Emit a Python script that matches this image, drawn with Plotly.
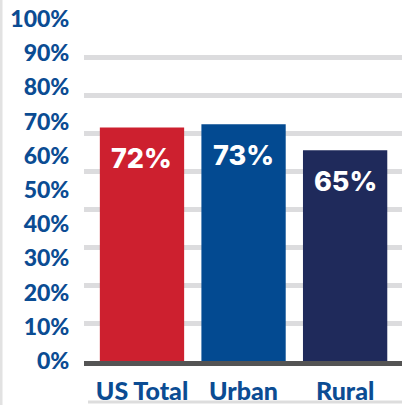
import plotly.graph_objects as go

categories = ["US Total", "Urban", "Rural"]
values = [72, 73, 65]
value_labels = ["72%", "73%", "65%"]
bar_colors = ["#CD202F", "#034A91", "#1F2A5B"]
tick_values = [0, 10, 20, 30, 40, 50, 60, 70, 80, 90, 100]
tick_labels = [f"{v}%" for v in tick_values]
grid_steps = [1, 2, 3, 4, 5, 6, 7, 8, 9]

TEXT_BLUE = "#0B4C93"

fig = go.Figure()

fig.add_trace(go.Bar(
    x=categories, y=values, marker=dict(color=bar_colors, line=dict(width=0)),
    width=0.83, hoverinfo="skip", showlegend=False,
))
fig.add_trace(go.Scatter(x=categories, y=[None] * 3, yaxis="y2", mode="markers",
                         showlegend=False, hoverinfo="skip"))
fig.add_trace(go.Scatter(x=categories, y=[None] * 3, yaxis="y3", mode="markers",
                         showlegend=False, hoverinfo="skip"))

for c, v, t in zip(categories, values, value_labels):
    fig.add_annotation(x=c, y=v, xref="x", yref="y", text=t, showarrow=False,
                       yanchor="middle", yshift=-31,
                       font=dict(family="Inter", size=27, color="white", weight=800))

fig.update_layout(
    width=402, height=405,
    margin=dict(l=84, r=0, t=19, b=44, autoexpand=False),
    paper_bgcolor="white", plot_bgcolor="white",
    xaxis=dict(
        range=[-0.571, 2.56], showgrid=False, zeroline=False, automargin=False,
        showline=True, linecolor="#545454", linewidth=5,
        ticks="outside", ticklen=4, tickcolor="rgba(0,0,0,0)",
        tickfont=dict(family="Lato", size=25, color=TEXT_BLUE, weight=900),
        fixedrange=True,
    ),
    yaxis=dict(range=[0, 105.5], showgrid=False, zeroline=False, showticklabels=False,
               ticks="", fixedrange=True, automargin=False),
    yaxis2=dict(range=[0, 100], overlaying="y", side="left", showgrid=False, zeroline=False,
                tickmode="array", tickvals=tick_values, ticktext=tick_labels,
                ticks="outside", ticklen=9, tickcolor="rgba(0,0,0,0)", automargin=False,
                tickfont=dict(family="Lato", size=23, color=TEXT_BLUE, weight=900),
                fixedrange=True),
    yaxis3=dict(range=[0, 9], overlaying="y", side="right", showticklabels=False,
                showgrid=True, gridcolor="#DCDCDE", gridwidth=5, zeroline=False, automargin=False,
                tickmode="array", tickvals=grid_steps, ticks="", fixedrange=True),
    shapes=[
        dict(type="line", xref="paper", yref="paper", x0=-83/318, x1=-83/318,
             y0=-44/342, y1=1 + 19/342, line=dict(color="#E2E2E2", width=3)),
        dict(type="line", xref="paper", yref="paper", x0=4/318, x1=1,
             y0=-41/342, y1=-41/342, line=dict(color="#DDDDDD", width=3)),
    ],
)

fig.write_html("out.html", config={"displayModeBar": False},
               post_script="document.body.style.margin='0';document.body.style.overflow='hidden';")
